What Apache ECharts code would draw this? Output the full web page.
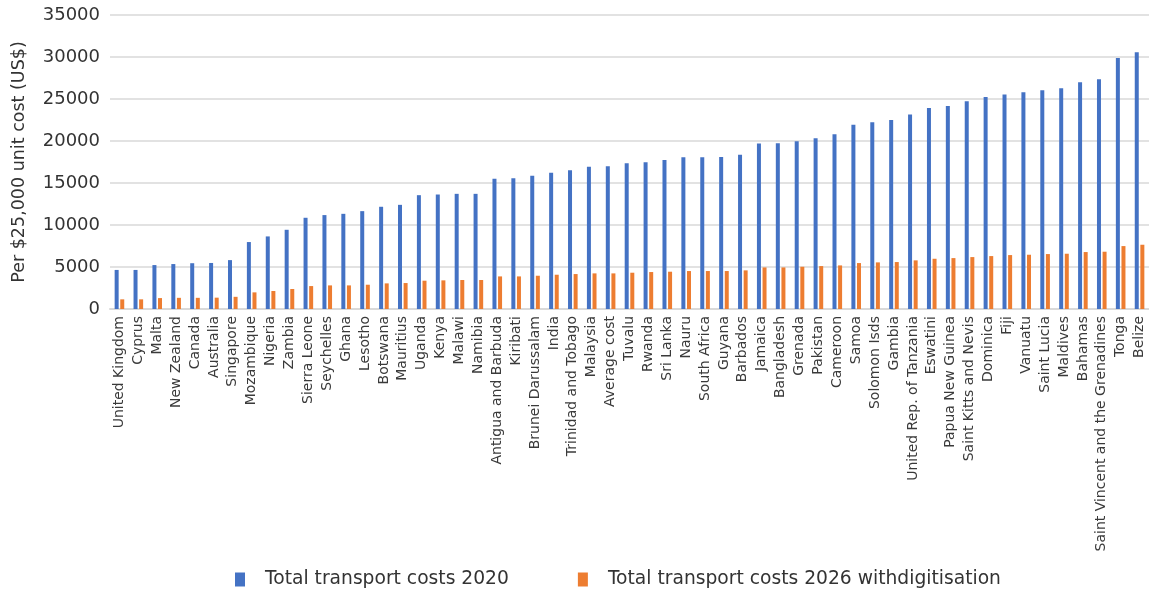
<!DOCTYPE html>
<html>
<head>
<meta charset="utf-8">
<script src="https://cdn.jsdelivr.net/npm/echarts@6/dist/echarts.min.js"></script>
<style>html,body{margin:0;padding:0;background:#fff;}#c{width:1149px;height:590px;}</style>
</head>
<body>
<div id="c"></div>
<script>
const categories = ["United Kingdom","Cyprus","Malta","New Zealand","Canada","Australia","Singapore","Mozambique","Nigeria","Zambia","Sierra Leone","Seychelles","Ghana","Lesotho","Botswana","Mauritius","Uganda","Kenya","Malawi","Namibia","Antigua and Barbuda","Kiribati","Brunei Darussalam","India","Trinidad and Tobago","Malaysia","Average cost","Tuvalu","Rwanda","Sri Lanka","Nauru","South Africa","Guyana","Barbados","Jamaica","Bangladesh","Grenada","Pakistan","Cameroon","Samoa","Solomon Isds","Gambia","United Rep. of Tanzania","Eswatini","Papua New Guinea","Saint Kitts and Nevis","Dominica","Fiji","Vanuatu","Saint Lucia","Maldives","Bahamas","Saint Vincent and the Grenadines","Tonga","Belize"];
const costs2020 = [4650,4650,5230,5350,5450,5480,5820,7970,8640,9430,10860,11180,11330,11650,12170,12400,13550,13630,13710,13710,15500,15580,15850,16210,16530,16920,17000,17360,17480,17750,18070,18070,18110,18350,19700,19740,19980,20330,20810,21920,22230,22510,23150,23940,24170,24730,25250,25530,25800,26040,26280,26990,27350,29880,30560];
const costs2026 = [1150,1150,1300,1330,1330,1350,1450,1980,2140,2380,2730,2810,2810,2890,3050,3090,3370,3410,3450,3450,3880,3880,3960,4080,4160,4240,4240,4320,4400,4440,4520,4520,4520,4600,4950,4950,5030,5110,5190,5470,5550,5590,5790,5980,6060,6180,6300,6420,6460,6540,6580,6780,6820,7490,7650];
const yTicks = {min: 0, max: 35000, interval: 5000};
const seriesNames = ["Total transport costs 2020", "Total transport costs 2026 withdigitisation"];

const chart = echarts.init(document.getElementById('c'), null, {renderer: 'canvas'});
const font = "'DejaVu Sans', sans-serif";
chart.setOption({
  animation: false,
  textStyle: {fontFamily: font},
  grid: {left: 110, width: 1045, top: 15, bottom: 281, containLabel: false},
  legend: {
    top: 565, left: 230, itemGap: 69, itemWidth: 10, itemHeight: 14, icon: 'rect',
    textStyle: {fontSize: 18.7, color: '#333', fontFamily: font, padding: [0,0,0,15]},
    data: seriesNames
  },
  xAxis: {
    type: 'category', data: categories,
    axisLine: {lineStyle: {color: '#d9d9d9', width: 2}},
    axisTick: {show: false},
    axisLabel: {rotate: 90, interval: 0, fontSize: 14, color: '#3a3a3a', margin: 7, fontFamily: font}
  },
  yAxis: {
    type: 'value', min: yTicks.min, max: yTicks.max, interval: yTicks.interval,
    name: 'Per $25,000 unit cost (US$)', nameLocation: 'middle', nameGap: 82,
    nameTextStyle: {fontSize: 17.5, color: '#333', fontFamily: font},
    axisLine: {show: false}, axisTick: {show: false},
    axisLabel: {fontSize: 18, color: '#333', margin: 10, fontFamily: font, formatter: v => String(v)},
    splitLine: {lineStyle: {color: '#d9d9d9', width: 1.5}}
  },
  series: [
    {name: seriesNames[0], type: 'bar', data: costs2020, barWidth: 4, barGap: '40%', itemStyle: {color: '#4472C4'}},
    {name: seriesNames[1], type: 'bar', data: costs2026, barWidth: 4, itemStyle: {color: '#ED7D31'}}
  ]
});
</script>
</body>
</html>
